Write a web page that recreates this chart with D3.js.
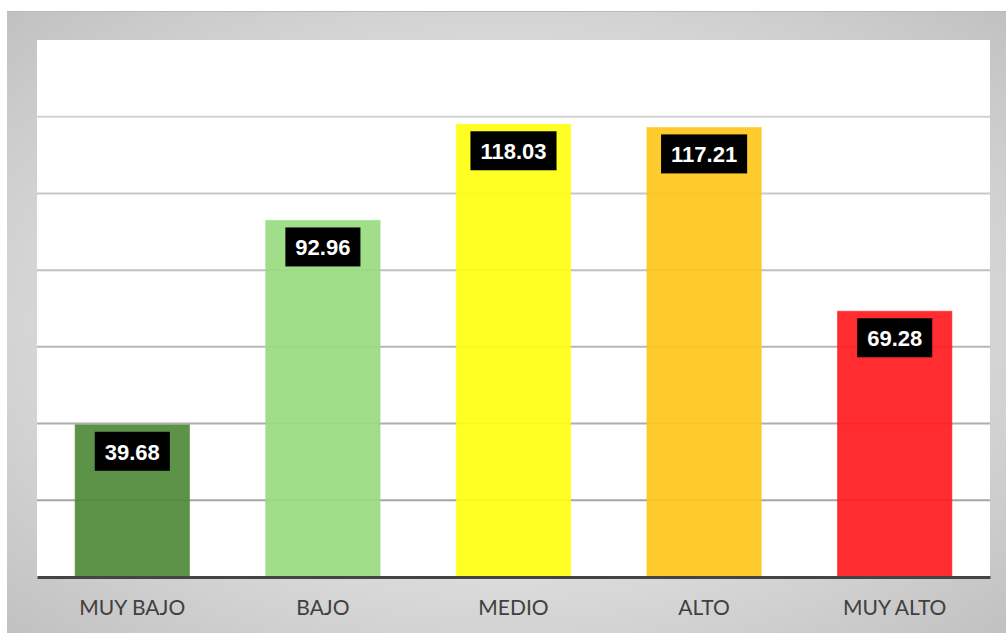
<!DOCTYPE html>
<html>
<head>
<meta charset="utf-8">
<script src="https://cdn.jsdelivr.net/npm/d3@7"></script>
<style>
  html, body { margin: 0; padding: 0; background: #fff; }
  svg { display: block; }
</style>
</head>
<body>
<div id="chart"></div>
<script>
// data
const categories = ['MUY BAJO', 'BAJO', 'MEDIO', 'ALTO', 'MUY ALTO'];
const values = [39.68, 92.96, 118.03, 117.21, 69.28];
const barColors = ['#4f8a38', '#98db80', '#ffff11', '#ffc61c', '#ff1a1e'];
const yTicks = [0, 20, 40, 60, 80, 100, 120, 140];

const W = 1006, H = 633;
const margin = { top: 40, right: 16, bottom: 56, left: 37 };
const width = W - margin.left - margin.right;
const height = H - margin.top - margin.bottom;

const svg = d3.select('#chart').append('svg')
  .attr('width', W)
  .attr('height', H);

const defs = svg.append('defs');
const bg = defs.append('radialGradient')
  .attr('id', 'bg')
  .attr('cx', '50%').attr('cy', '50%').attr('r', '75%');
bg.append('stop').attr('offset', '0%').attr('stop-color', '#ffffff');
bg.append('stop').attr('offset', '100%').attr('stop-color', '#bdbdbd');

const gridGrad = defs.append('linearGradient')
  .attr('id', 'gridGrad')
  .attr('gradientUnits', 'userSpaceOnUse')
  .attr('x1', 0).attr('y1', 0).attr('x2', 0).attr('y2', height);
gridGrad.append('stop').attr('offset', '0%').attr('stop-color', '#dadada');
gridGrad.append('stop').attr('offset', '100%').attr('stop-color', '#9c9c9c');

// gray frame behind the plot
svg.append('rect')
  .attr('x', 7).attr('y', 11)
  .attr('width', W - 7).attr('height', H - 11)
  .attr('fill', 'url(#bg)');
svg.append('line')
  .attr('x1', 7).attr('x2', W).attr('y1', 11.5).attr('y2', 11.5)
  .attr('stroke', '#b8b8b8');

const g = svg.append('g')
  .attr('transform', `translate(${margin.left},${margin.top})`);

g.append('rect')
  .attr('width', width).attr('height', height)
  .attr('fill', '#fff');

const x = d3.scaleBand()
  .domain(categories)
  .range([0, width])
  .paddingInner(0.4)
  .paddingOuter(0.2);

const y = d3.scaleLinear()
  .domain([0, 140])
  .range([height, 0]);

// gridlines
g.append('g')
  .selectAll('line')
  .data(yTicks.slice(1, -1))
  .enter().append('line')
  .attr('x1', 0).attr('x2', width)
  .attr('y1', d => y(d)).attr('y2', d => y(d))
  .attr('stroke', 'url(#gridGrad)')
  .attr('stroke-width', 2);

const data = categories.map((c, i) => ({ cat: c, value: values[i], color: barColors[i] }));

g.selectAll('.bar')
  .data(data)
  .enter().append('rect')
  .attr('class', 'bar')
  .attr('x', d => x(d.cat))
  .attr('width', x.bandwidth())
  .attr('y', d => y(d.value))
  .attr('height', d => height - y(d.value))
  .attr('fill', d => d.color)
  .attr('fill-opacity', 0.92)
  .attr('stroke', d => d.color)
  .attr('stroke-opacity', 0.55)
  .attr('stroke-width', 1);

// value labels
const labels = g.selectAll('.lbl')
  .data(data)
  .enter().append('g')
  .attr('class', 'lbl')
  .attr('transform', d => `translate(${x(d.cat) + x.bandwidth() / 2},${y(d.value) + 7})`);

labels.append('text')
  .attr('y', 20)
  .attr('dy', '0.36em')
  .attr('text-anchor', 'middle')
  .attr('fill', '#fff')
  .style('font-family', '"Liberation Sans", Arial, sans-serif')
  .style('font-weight', 'bold')
  .style('font-size', '22px')
  .text(d => d.value.toFixed(2))
  .each(function () {
    const w = this.getComputedTextLength();
    d3.select(this.parentNode).insert('rect', 'text')
      .attr('x', -w / 2 - 10)
      .attr('y', 0)
      .attr('width', w + 20)
      .attr('height', 39)
      .attr('fill', '#000');
  });

// x axis
const xAxis = g.append('g')
  .attr('transform', `translate(0,${height})`)
  .call(d3.axisBottom(x).tickSize(0).tickPadding(23));
xAxis.select('.domain')
  .attr('stroke', '#444')
  .attr('stroke-width', 3);
xAxis.selectAll('text')
  .attr('fill', '#404040')
  .style('font-family', 'Lato, sans-serif')
  .style('font-size', '21px');
</script>
</body>
</html>
